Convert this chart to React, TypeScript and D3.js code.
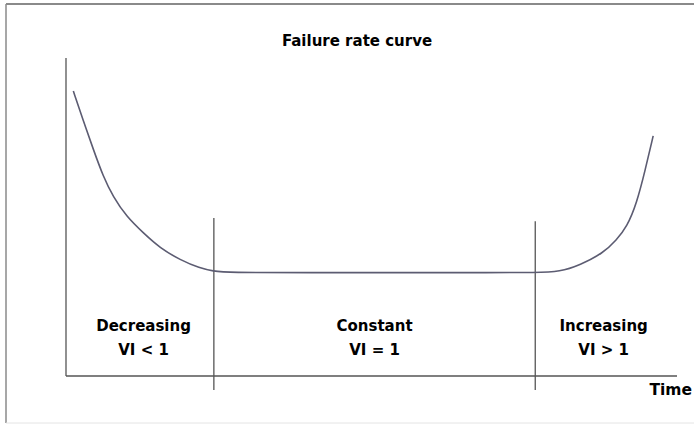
import React from "react";
import * as d3 from "d3";

// failure rate curve (time 0-100, rate 0-100)
const times = [1.2, 2.8, 4.5, 6.1, 7.7, 9.9, 12.7, 15.4, 18.7, 21.9, 24.1, 26.3, 40, 55, 70, 76.8, 80.9, 84.1, 87.9, 90.1, 91.8, 93.4, 94.8, 96.1];
const rates = [89.6, 80.5, 71.1, 62.7, 56.4, 50.1, 44.9, 40.2, 36.5, 33.9, 33.0, 32.5, 32.5, 32.5, 32.5, 32.5, 32.8, 34.9, 38.6, 42.8, 46.9, 54.3, 64.8, 75.5];

// phase boundaries (time) and the height they reach
const boundaries = [24.2, 76.8];
const boundaryTops = [49.7, 48.7];

const phaseNames = ["Decreasing", "Constant", "Increasing"];
const phaseRules = ["VI < 1", "VI = 1", "VI > 1"];

const W = 694;
const H = 426;

const App = () => {
  const x = d3.scaleLinear().domain([0, 100]).range([66, 677]);
  const y = d3.scaleLinear().domain([0, 100]).range([376, 58]);

  const pts: [number, number][] = times.map((t, i) => [t, rates[i]]);
  const line = d3
    .line<[number, number]>()
    .x((d) => x(d[0]))
    .y((d) => y(d[1]))
    .curve(d3.curveBasis);

  // label centres: middle of each phase
  const edges = [0, ...boundaries, 100];
  const centres = phaseNames.map((_, i) => (edges[i] + edges[i + 1]) / 2);
  centres[0] += 0.6;
  centres[2] -= 0.4;

  const font = "'DejaVu Sans', Verdana, sans-serif";

  return (
    <svg
      width={W}
      height={H}
      style={{ position: "fixed", left: 0, top: 0, background: "#fff" }}
    >
      {/* frame */}
      <line x1={6} x2={W} y1={4} y2={4} stroke="#8a8a8a" strokeWidth={2} />
      <line x1={6} x2={6} y1={4} y2={423} stroke="#8a8a8a" strokeWidth={1.5} />
      <line x1={6} x2={W} y1={423} y2={423} stroke="#e4e4e4" strokeWidth={1} />

      <text
        x={357}
        y={45.5}
        textAnchor="middle"
        fontFamily={font}
        fontWeight="bold"
        fontSize={15}
        fill="#000"
      >
        Failure rate curve
      </text>

      {/* axes */}
      <line x1={x(0)} x2={x(0)} y1={y(100)} y2={y(0)} stroke="#555" strokeWidth={1.3} />
      <line x1={x(0)} x2={x(100)} y1={y(0)} y2={y(0)} stroke="#555" strokeWidth={1.3} />

      {/* phase boundaries */}
      {boundaries.map((b, i) => (
        <line
          key={i}
          x1={x(b)}
          x2={x(b)}
          y1={y(boundaryTops[i])}
          y2={y(-4.4)}
          stroke="#555"
          strokeWidth={1.3}
        />
      ))}

      <path d={line(pts) || ""} fill="none" stroke="#5c5c72" strokeWidth={1.6} />

      {phaseNames.map((n, i) => (
        <g key={n} fontFamily={font} fontWeight="bold" fontSize={15} fill="#000" textAnchor="middle">
          <text x={x(centres[i])} y={331}>
            {n}
          </text>
          <text x={x(centres[i])} y={354.5}>
            {phaseRules[i]}
          </text>
        </g>
      ))}

      <text
        x={692}
        y={395}
        textAnchor="end"
        fontFamily={font}
        fontWeight="bold"
        fontSize={15.5}
        fill="#000"
      >
        Time
      </text>
    </svg>
  );
};

export default App;
